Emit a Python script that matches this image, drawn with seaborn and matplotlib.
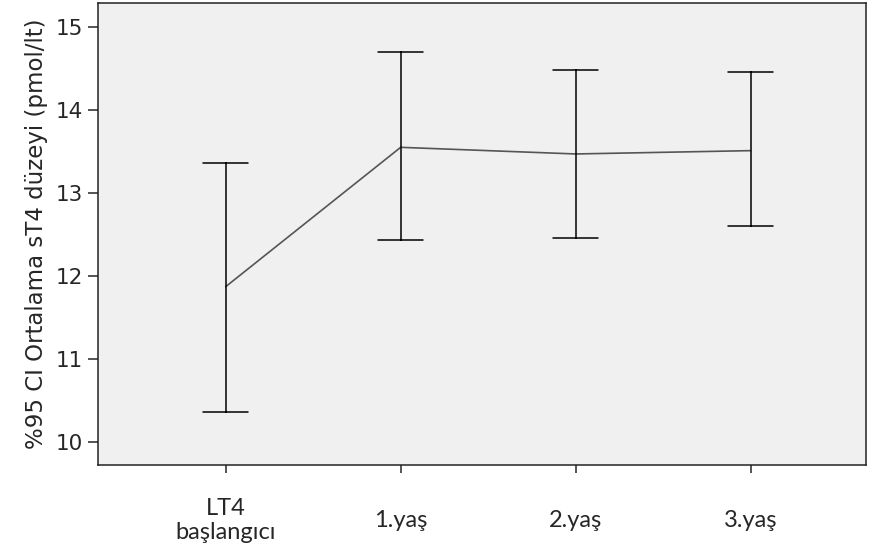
import pandas as pd
import numpy as np
import matplotlib
matplotlib.use('Agg')
import matplotlib.pyplot as plt
import seaborn as sns

# Values (mean and 95% CI bounds)
zaman = ['LT4\nbaşlangıcı', '1.yaş', '2.yaş', '3.yaş']
ortalama = [11.87, 13.55, 13.47, 13.51]
alt_sinir = [10.36, 12.43, 12.46, 12.60]
ust_sinir = [13.36, 14.70, 14.48, 14.46]

# long form: lower / mean / upper per group, so median = mean and 100% interval = CI
df = pd.DataFrame({
    'zaman': np.repeat(zaman, 3),
    'deger': np.ravel(np.column_stack([alt_sinir, ortalama, ust_sinir])),
})

sns.set_style('ticks')
plt.rcParams['font.family'] = ['DejaVu Sans']

fig = plt.figure(figsize=(8.71, 5.58), dpi=100)
ax = fig.add_axes([0.1125, 0.1667, 0.8818, 0.8279])
ax.set_facecolor('#f0f0f0')

sns.pointplot(data=df, x='zaman', y='deger', order=zaman,
              estimator='median', errorbar=('pi', 100),
              capsize=0.26, color='black', markers='', linewidth=1.1,
              err_kws={'linewidth': 1.1}, ax=ax)

# mean line is drawn gray in the original
for ln in ax.lines:
    if len(ln.get_xdata()) == len(zaman):
        ln.set_color('#555555')
        ln.set_linewidth(1.2)

ax.set_xlim(-0.73, 3.66)
ax.set_ylim(9.72, 15.29)
ax.set_yticks([10, 11, 12, 13, 14, 15])
ax.set_xlabel('')
ax.set_ylabel('%95 CI Ortalama sT4 düzeyi (pmol/lt)', fontsize=16.5, labelpad=5)

for s in ax.spines.values():
    s.set_visible(True)
    s.set_linewidth(1.1)
    s.set_color('#222222')

ax.tick_params(axis='y', length=7, width=1.1, labelsize=15.5, pad=4)
ax.tick_params(axis='x', length=6, width=1.1, labelsize=17, pad=34)
for lab in ax.get_xticklabels():
    lab.set_family(['Lato', 'DejaVu Sans'])
    lab.set_va('center')
    lab.set_linespacing(1.15)

fig.savefig('out.png', dpi=100)
